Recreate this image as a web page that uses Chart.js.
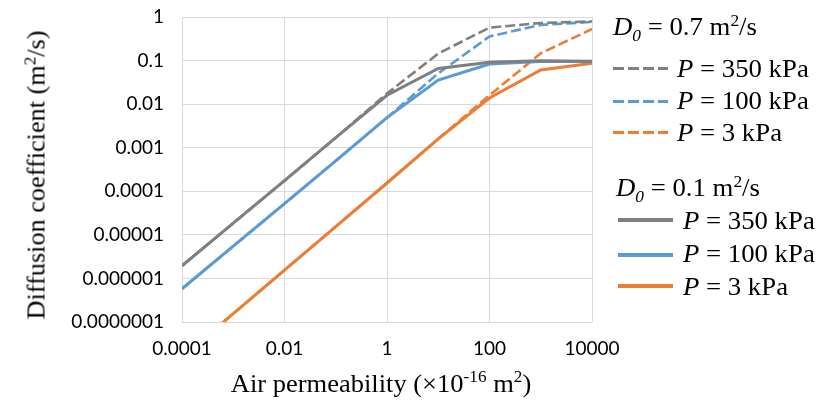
<!DOCTYPE html>
<html><head><meta charset="utf-8">
<script src="https://cdn.jsdelivr.net/npm/chart.js@4/dist/chart.umd.min.js"></script>
<style>
html,body{margin:0;padding:0;background:#fff;}
#wrap{position:relative;width:816px;height:401px;overflow:hidden;}
canvas{position:absolute;left:0;top:0;}
.serif{font-family:"Liberation Serif","Times New Roman",serif;color:#000;position:absolute;white-space:nowrap;line-height:1;}
.lg{font-size:25px;transform:scaleX(1.07);transform-origin:0 50%;}
.samp{position:absolute;width:55px;}
sup,sub{font-size:65%;line-height:0;}
</style></head>
<body><div id="wrap"><canvas id="c" width="816" height="401"></canvas>
<div class="serif" id="ytitle" style="font-size:25px;left:36px;top:175px;transform:translate(-50%,-50%) rotate(-90deg) scaleX(1.05);">Diffusion coefficient (m<sup>2</sup>/s)</div>
<div class="serif" id="xtitle" style="font-size:25px;left:381px;top:383px;transform:translate(-50%,-50%) scaleX(1.06);">Air permeability (×10<sup>-16</sup> m<sup>2</sup>)</div>
<div id="legend"></div>
</div>
<script>
const xValues = [0.0001, 0.001, 0.01, 0.1, 1, 10, 100, 1000, 10000];
// D0 = 0.1 m2/s (solid)
const solid350 = [1.95e-6, 1.85e-5, 1.75e-4, 1.7e-3, 0.016, 0.066, 0.092, 0.099, 0.097];
const solid100 = [5.8e-7, 5.5e-6, 5.2e-5, 5.0e-4, 0.0049, 0.0356, 0.083, 0.095, 0.095];
const solid3   = [1.55e-8, 1.55e-7, 1.55e-6, 1.55e-5, 1.55e-4, 1.6e-3, 0.0138, 0.061, 0.087];
// D0 = 0.7 m2/s (dashed)
const dash350 = [1.95e-6, 1.85e-5, 1.75e-4, 1.7e-3, 0.0176, 0.145, 0.57, 0.73, 0.79];
const dash100 = [5.8e-7, 5.5e-6, 5.2e-5, 5.0e-4, 0.0049, 0.051, 0.357, 0.66, 0.77];
const dash3   = [1.55e-8, 1.55e-7, 1.55e-6, 1.55e-5, 1.55e-4, 1.6e-3, 0.016, 0.147, 0.53];

const xTickValues = [0.0001, 0.01, 1, 100, 10000];
const xTickLabels = ['0.0001', '0.01', '1', '100', '10000'];
const yTickValues = [1e-7, 1e-6, 1e-5, 1e-4, 1e-3, 1e-2, 1e-1, 1];
const yTickLabels = ['0.0000001', '0.000001', '0.00001', '0.0001', '0.001', '0.01', '0.1', '1'];

const seriesNames = ['P = 350 kPa', 'P = 100 kPa', 'P = 3 kPa'];
const colors = ['#7f7f7f', '#5b9bd5', '#ed7d31'];

const pts = arr => arr.map((y, i) => ({x: xValues[i], y}));
const mk = (arr, i, dashed) => ({
  label: seriesNames[i], data: pts(arr), borderColor: colors[i], backgroundColor: colors[i],
  borderWidth: dashed ? 2.6 : 3, borderDash: dashed ? [10, 4] : [], pointRadius: 0,
  tension: 0, fill: false, order: dashed ? 1 : 0, borderCapStyle: 'butt'
});

const tickFont = {family: 'Lato', size: 19};
new Chart(document.getElementById('c'), {
  type: 'line',
  data: {datasets: [
    mk(dash350, 0, true), mk(dash100, 1, true), mk(dash3, 2, true),
    mk(solid350, 0, false), mk(solid100, 1, false), mk(solid3, 2, false)
  ]},
  options: {
    responsive: false, animation: false,
    layout: {padding: {left: 0, top: 17, right: 224, bottom: 0}},
    plugins: {legend: {display: false}, tooltip: {enabled: false}},
    scales: {
      x: {type: 'logarithmic', min: 0.0001, max: 10000,
        afterBuildTicks: s => { s.ticks = xTickValues.map(v => ({value: v})); },
        afterFit: s => { s.height = 79; s.paddingLeft = 0; s.paddingRight = 0; },
        grid: {color: '#d9d9d9', lineWidth: 1, drawTicks: false},
        border: {display: false},
        ticks: {autoSkip: false, maxRotation: 0, padding: 15, color: '#000', font: tickFont,
          callback: (v, i) => xTickLabels[i]}
      },
      y: {type: 'logarithmic', min: 1e-7, max: 1,
        afterBuildTicks: s => { s.ticks = yTickValues.map(v => ({value: v})); },
        afterFit: s => { s.width = 182; s.paddingTop = 0; s.paddingBottom = 0; },
        grid: {color: '#d9d9d9', lineWidth: 1, drawTicks: false},
        border: {display: false},
        ticks: {autoSkip: false, padding: 18, color: '#000', font: tickFont,
          callback: (v, i) => yTickLabels[i]}
      }
    }
  }
});

// HTML legend (text with italic symbols, subscripts and superscripts)
const legendHeaders = ['0.7', '0.1'];
const lg = document.getElementById('legend');
function addHeader(val, left, top) {
  const d = document.createElement('div');
  d.className = 'serif lg';
  d.style.left = left + 'px'; d.style.top = top + 'px';
  d.innerHTML = '<i>D</i><sub><i>0</i></sub> = ' + val + ' m<sup>2</sup>/s';
  lg.appendChild(d);
}
function addRow(i, dashed, sx, tx, ly, ty) {
  const s = document.createElement('div');
  s.className = 'samp';
  const h = dashed ? 3 : 4;
  s.style.left = sx + 'px'; s.style.top = (ly - h / 2) + 'px'; s.style.height = h + 'px';
  s.style.background = dashed
    ? 'repeating-linear-gradient(90deg,' + colors[i] + ' 0 11px, transparent 11px 15px)'
    : colors[i];
  lg.appendChild(s);
  const t = document.createElement('div');
  t.className = 'serif lg';
  t.style.left = tx + 'px'; t.style.top = ty + 'px';
  t.innerHTML = '<i>P</i>' + seriesNames[i].slice(1);
  lg.appendChild(t);
}
addHeader(legendHeaders[0], 613, 14);
addRow(0, true, 613, 677, 68, 56);
addRow(1, true, 613, 677, 101, 88);
addRow(2, true, 613, 677, 132, 120);
addHeader(legendHeaders[1], 616, 175);
addRow(0, false, 618, 683, 220, 208);
addRow(1, false, 618, 683, 255, 241);
addRow(2, false, 618, 683, 286, 274);
</script>
</body></html>
